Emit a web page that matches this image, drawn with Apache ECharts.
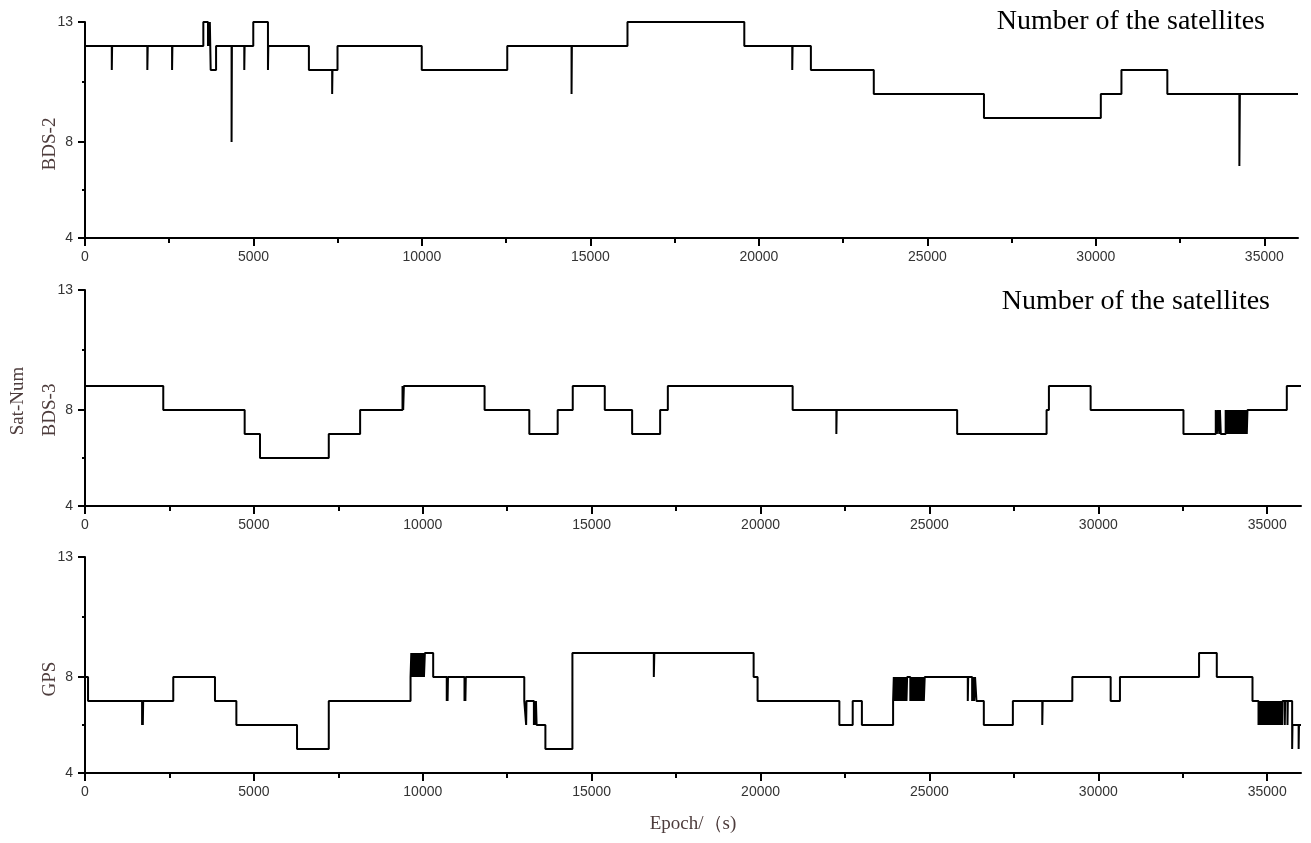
<!DOCTYPE html>
<html>
<head>
<meta charset="utf-8">
<script src="https://cdn.jsdelivr.net/npm/echarts@6/dist/echarts.min.js"></script>
<style>
  html, body { margin: 0; padding: 0; background: #fff; }
  #main { width: 1311px; height: 843px; }
</style>
</head>
<body>
<div id="main"></div>
<script>
// change points [epoch, sat count], value holds from that epoch on
var bds2 = [
  [0, 12], [795, 11], [805, 12], [1850, 11], [1862, 12], [2584, 11], [2594, 12],
  [3512, 13], [3650, 12], [3670, 13], [3690, 12], [3705, 13], [3730, 11], [3890, 12],
  [4350, 8], [4360, 12], [4727, 11], [4737, 12], [4994, 13], [5430, 11], [5440, 12],
  [6645, 11], [7335, 10], [7345, 11], [7494, 12], [9994, 11], [12532, 12],
  [14440, 10], [14450, 12], [16100, 13], [19567, 12], [20990, 11], [21000, 12],
  [21543, 11], [23410, 10], [26680, 9], [30148, 10], [30760, 11], [32122, 10],
  [34260, 7], [34275, 10], [36000, 10]
];
var bds3 = [
  [0, 9], [2317, 8], [4727, 7], [5181, 6], [7217, 7], [8145, 8], [9400, 9], [9420, 8],
  [9440, 9], [11830, 8], [13154, 7], [13994, 8], [14440, 9], [15388, 8], [16198, 7],
  [17027, 8], [17255, 9], [20950, 8], [22244, 7], [22254, 8], [25820, 7], [28468, 8],
  [28537, 9], [29772, 8], [32520, 7], [33477, 8], [33510, 7], [33540, 8], [33580, 7],
  [33600, 8], [33625, 7],
  [33770, 8], [33795, 7], [33820, 8], [33845, 7], [33870, 8], [33895, 7], [33920, 8],
  [33945, 7], [33970, 8], [33995, 7], [34020, 8], [34045, 7], [34070, 8], [34095, 7],
  [34120, 8], [34145, 7], [34170, 8], [34195, 7], [34220, 8], [34245, 7], [34270, 8],
  [34295, 7], [34320, 8], [34345, 7], [34370, 8], [34395, 7], [34415, 8],
  [35580, 9], [36000, 9]
];
var gps = [
  [0, 8], [90, 7], [1690, 6], [1700, 7], [1712, 6], [1722, 7], [2613, 8], [3848, 7],
  [4481, 6], [6277, 5], [7217, 7], [9638, 8],
  [9660, 9], [9685, 8], [9710, 9], [9735, 8], [9760, 9], [9785, 8], [9810, 9], [9835, 8],
  [9860, 9], [9885, 8], [9910, 9], [9935, 8], [9960, 9], [9985, 8], [10010, 9], [10035, 8],
  [10062, 9], [10308, 8], [10710, 7], [10722, 8], [10734, 7], [10746, 8],
  [11235, 7], [11248, 8], [11261, 7], [11274, 8], [13005, 7], [13060, 6], [13070, 7],
  [13290, 6], [13310, 7], [13330, 6], [13350, 7], [13370, 6], [13630, 5], [14430, 9],
  [16840, 8], [16855, 9], [19795, 8], [19912, 7], [22333, 6], [22728, 7], [23000, 6],
  [23924, 7],
  [23945, 8], [23970, 7], [23995, 8], [24020, 7], [24045, 8], [24070, 7], [24095, 8],
  [24120, 7], [24145, 8], [24170, 7], [24195, 8], [24220, 7], [24245, 8], [24270, 7],
  [24295, 8], [24320, 7], [24339, 8],
  [24434, 7], [24459, 8], [24484, 7], [24509, 8], [24534, 7], [24559, 8], [24584, 7],
  [24609, 8], [24634, 7], [24659, 8], [24684, 7], [24709, 8], [24734, 7], [24759, 8],
  [24784, 7], [24809, 8], [24834, 7], [24860, 8],
  [26135, 7], [26147, 8], [26264, 7], [26290, 8], [26320, 7], [26350, 8], [26392, 7],
  [26610, 6], [27470, 7], [28340, 6], [28352, 7], [29230, 8], [30365, 7], [30640, 8],
  [32982, 9], [33507, 8], [34564, 7],
  [34742, 6], [34767, 7], [34792, 6], [34817, 7], [34842, 6], [34867, 7], [34892, 6],
  [34917, 7], [34942, 6], [34967, 7], [34992, 6], [35017, 7], [35042, 6], [35067, 7],
  [35092, 6], [35117, 7], [35142, 6], [35167, 7], [35192, 6], [35217, 7], [35242, 6],
  [35267, 7], [35292, 6], [35317, 7], [35342, 6], [35367, 7], [35392, 6], [35417, 7],
  [35442, 6], [35453, 7],
  [35520, 6], [35530, 7], [35600, 6], [35610, 7], [35738, 5], [35748, 6], [35930, 5],
  [35940, 6], [36000, 6]
];

var xTicks = [0, 5000, 10000, 15000, 20000, 25000, 30000, 35000];
var xMinorTicks = [2500, 7500, 12500, 17500, 22500, 27500, 32500];
var yTicks = [4, 8, 13];
var yMinorTicks = [6, 10.5];
var panelNames = ['BDS-2', 'BDS-3', 'GPS'];
var panelData = [bds2, bds3, gps];

var chart = echarts.init(document.getElementById('main'));

var tops = [22, 290, 557];
var rights = [13, 10, 10];
var grids = [], xAxes = [], yAxes = [], series = [];
var lblFont = 'Liberation Sans';

for (var i = 0; i < 3; i++) {
  grids.push({ left: 85, top: tops[i], right: rights[i], height: 216 });
}
for (var i = 0; i < 3; i++) {
  xAxes.push({
    type: 'value', gridIndex: i, min: 0, max: 36000,
    axisLine: { lineStyle: { color: '#000', width: 2 } },
    axisTick: { customValues: xTicks, length: 8, lineStyle: { color: '#000', width: 2 } },
    axisLabel: {
      customValues: xTicks, margin: 12, color: '#333', fontSize: 14, fontFamily: lblFont,
      formatter: function (v) { return String(v); }
    },
    splitLine: { show: false },
    name: i === 2 ? 'Epoch/（s)' : '',
    nameLocation: 'middle', nameGap: 42,
    nameTextStyle: { color: '#4d3c3c', fontSize: 19, fontFamily: 'Liberation Serif' }
  });
  yAxes.push({
    type: 'value', gridIndex: i, min: 4, max: 13,
    axisLine: { show: true, lineStyle: { color: '#000', width: 2 } },
    axisTick: { show: true, customValues: yTicks, length: 7, lineStyle: { color: '#000', width: 2 } },
    axisLabel: { customValues: yTicks, margin: 12, color: '#333', fontSize: 14, fontFamily: lblFont },
    splitLine: { show: false }
  });
}
// overlay axes only for the short minor ticks
for (var i = 0; i < 3; i++) {
  xAxes.push({
    type: 'value', gridIndex: i, min: 0, max: 36000, position: 'bottom',
    axisLine: { show: false },
    axisTick: { customValues: xMinorTicks, length: 5, lineStyle: { color: '#000', width: 2 } },
    axisLabel: { show: false }, splitLine: { show: false }
  });
  yAxes.push({
    type: 'value', gridIndex: i, min: 4, max: 13, position: 'left',
    axisLine: { show: false },
    axisTick: { show: true, customValues: yMinorTicks, length: 3, lineStyle: { color: '#000', width: 2 } },
    axisLabel: { show: false }, splitLine: { show: false }
  });
}
for (var i = 0; i < 3; i++) {
  series.push({
    type: 'line', name: panelNames[i], xAxisIndex: i, yAxisIndex: i,
    data: panelData[i], step: 'end', showSymbol: false, symbol: 'none',
    lineStyle: { color: '#000', width: 2 }
  });
}

var nameStyle = { fill: '#4d3c3c', fontSize: 19, fontFamily: 'Liberation Serif', textAlign: 'center', textVerticalAlign: 'middle' };
function vText(txt, x, y, extra) {
  return { type: 'text', x: x, y: y, rotation: Math.PI / 2,
    style: Object.assign({ text: txt }, nameStyle, extra || {}) };
}
var titleStyle = { fill: '#000', fontSize: 28, fontFamily: 'Liberation Serif', textAlign: 'right', textVerticalAlign: 'middle' };

chart.setOption({
  animation: false,
  backgroundColor: '#fff',
  grid: grids,
  xAxis: xAxes,
  yAxis: yAxes,
  series: series,
  graphic: [
    vText('BDS-2', 50, 144),
    vText('BDS-3', 50, 410),
    vText('Sat-Num', 18, 401, { letterSpacing: 3 }),
    vText('GPS', 50, 679),
    { type: 'text', x: 1265, y: 22, style: Object.assign({ text: 'Number of the satellites' }, titleStyle) },
    { type: 'text', x: 1270, y: 302, style: Object.assign({ text: 'Number of the satellites' }, titleStyle) }
  ]
});
</script>
</body>
</html>
